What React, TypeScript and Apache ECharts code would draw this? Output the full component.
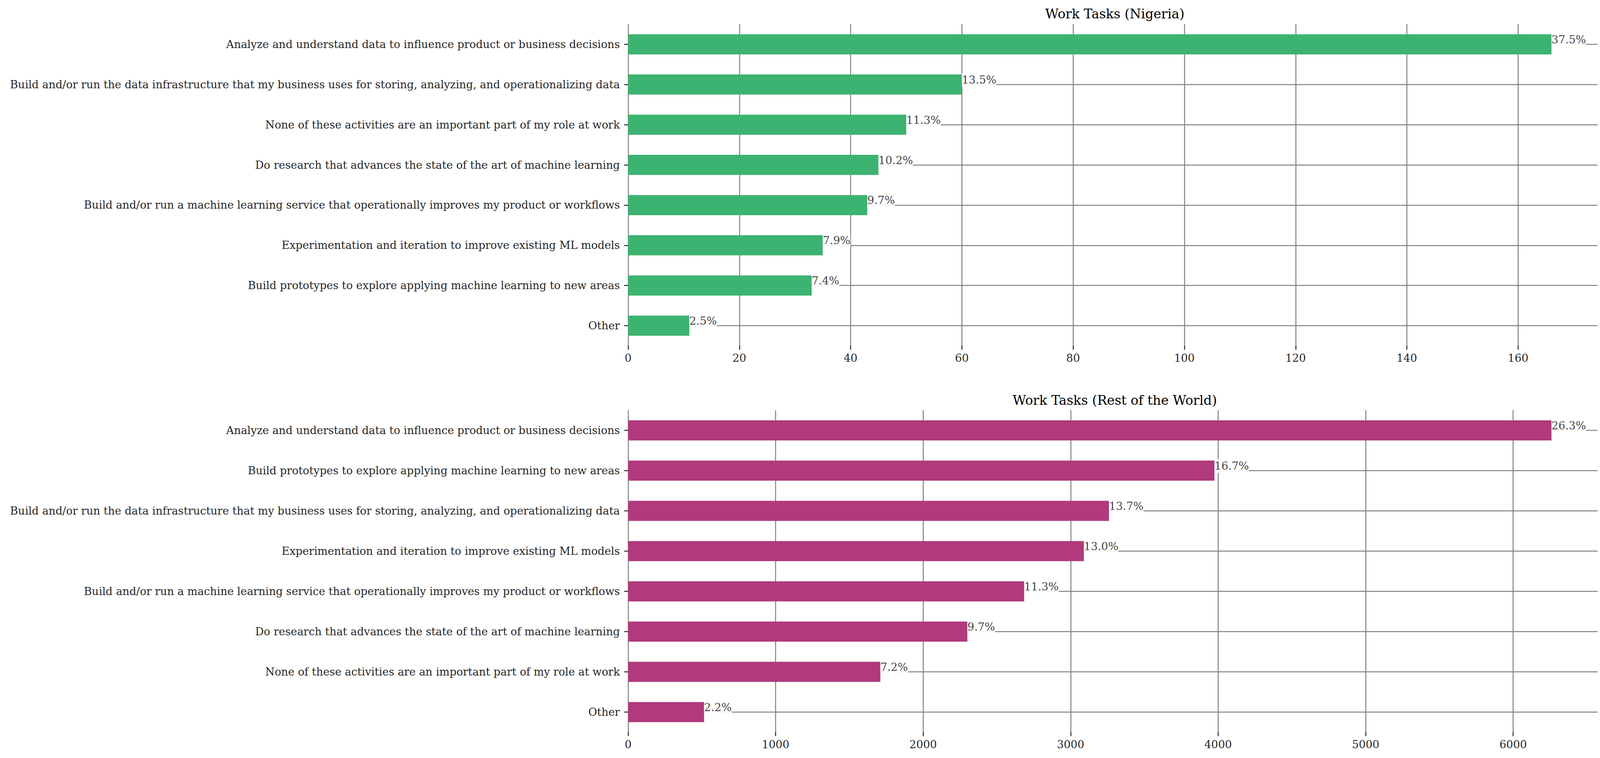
import React, { useEffect, useRef } from "react";
import * as echarts from "echarts";

const ngCategories = [
  "Analyze and understand data to influence product or business decisions",
  "Build and/or run the data infrastructure that my business uses for storing, analyzing, and operationalizing data",
  "None of these activities are an important part of my role at work",
  "Do research that advances the state of the art of machine learning",
  "Build and/or run a machine learning service that operationally improves my product or workflows",
  "Experimentation and iteration to improve existing ML models",
  "Build prototypes to explore applying machine learning to new areas",
  "Other",
];
const ngValues = [166, 60, 50, 45, 43, 35, 33, 11];
const ngTicks = [0, 20, 40, 60, 80, 100, 120, 140, 160];

const rowCategories = [
  "Analyze and understand data to influence product or business decisions",
  "Build prototypes to explore applying machine learning to new areas",
  "Build and/or run the data infrastructure that my business uses for storing, analyzing, and operationalizing data",
  "Experimentation and iteration to improve existing ML models",
  "Build and/or run a machine learning service that operationally improves my product or workflows",
  "Do research that advances the state of the art of machine learning",
  "None of these activities are an important part of my role at work",
  "Other",
];
const rowValues = [6260, 3975, 3260, 3090, 2685, 2300, 1710, 515];
const rowTicks = [0, 1000, 2000, 3000, 4000, 5000, 6000];

const titles = ["Work Tasks (Nigeria)", "Work Tasks (Rest of the World)"];
const colors = ["#3cb371", "#b03a7c"];

const FONT = "DejaVu Serif";

export default function App() {
  const ref = useRef<HTMLDivElement>(null);
  useEffect(() => {
    if (!ref.current) return;
    const chart = echarts.init(ref.current, undefined, { renderer: "svg" });
    const datasets = [
      { cats: ngCategories, vals: ngValues, ticks: ngTicks },
      { cats: rowCategories, vals: rowValues, ticks: rowTicks },
    ];
    const grids = [
      { left: 1608, right: 18, top: 62, height: 823 },
      { left: 1608, right: 18, top: 1050, height: 824 },
    ];
    const titleTops = [14, 1003];
    const axisLabelStyle = { fontFamily: FONT, fontSize: 27.6, color: "#262626" };
    const tickStyle = { color: "#262626", width: 2.5 };
    const gridLine = { color: "#808080", width: 2.5 };

    const option: any = {
      animation: false,
      backgroundColor: "#ffffff",
      title: titles.map((t, i) => ({
        text: t,
        left: 2849,
        top: titleTops[i],
        textAlign: "center",
        textStyle: { fontFamily: FONT, fontSize: 33.3, fontWeight: "normal", color: "#000000" },
      })),
      grid: grids,
      xAxis: datasets.map((d, i) => {
        const mx = Math.max(...d.vals) * 1.05;
        return {
          type: "value",
          gridIndex: i,
          min: 0,
          max: mx,
          axisLine: { show: false },
          axisTick: { show: true, length: 10, lineStyle: tickStyle, customValues: d.ticks },
          axisLabel: {
            ...axisLabelStyle,
            margin: 17,
            customValues: d.ticks,
            formatter: (v: number) => String(v),
          },
          splitLine: { show: true, lineStyle: gridLine },
        };
      }),
      yAxis: datasets.map((d, i) => ({
        type: "category",
        gridIndex: i,
        inverse: true,
        data: d.cats,
        axisLine: { show: false },
        axisTick: { show: true, length: 10, alignWithLabel: true, lineStyle: tickStyle },
        axisLabel: { ...axisLabelStyle, margin: 21 },
        splitLine: { show: true, alignWithLabel: true, lineStyle: gridLine },
      })),
      series: datasets.map((d, i) => {
        const total = d.vals.reduce((a, b) => a + b, 0);
        return {
          type: "bar",
          xAxisIndex: i,
          yAxisIndex: i,
          data: d.vals,
          barWidth: "50%",
          itemStyle: { color: colors[i] },
          label: {
            show: true,
            position: "right",
            distance: 0,
            offset: [0, -12],
            formatter: (p: any) => ((p.value / total) * 100).toFixed(1) + "%",
            fontFamily: FONT,
            fontSize: 27.8,
            color: "#444444",
            backgroundColor: "rgba(255,255,255,0.9)",
            padding: [1, 0, 6, 0],
          },
        };
      }),
    };
    chart.setOption(option);
    return () => chart.dispose();
  }, []);
  return (
    <div
      ref={ref}
      style={{ position: "fixed", left: 0, top: 0, width: 4108, height: 1940, background: "#fff" }}
    />
  );
}
